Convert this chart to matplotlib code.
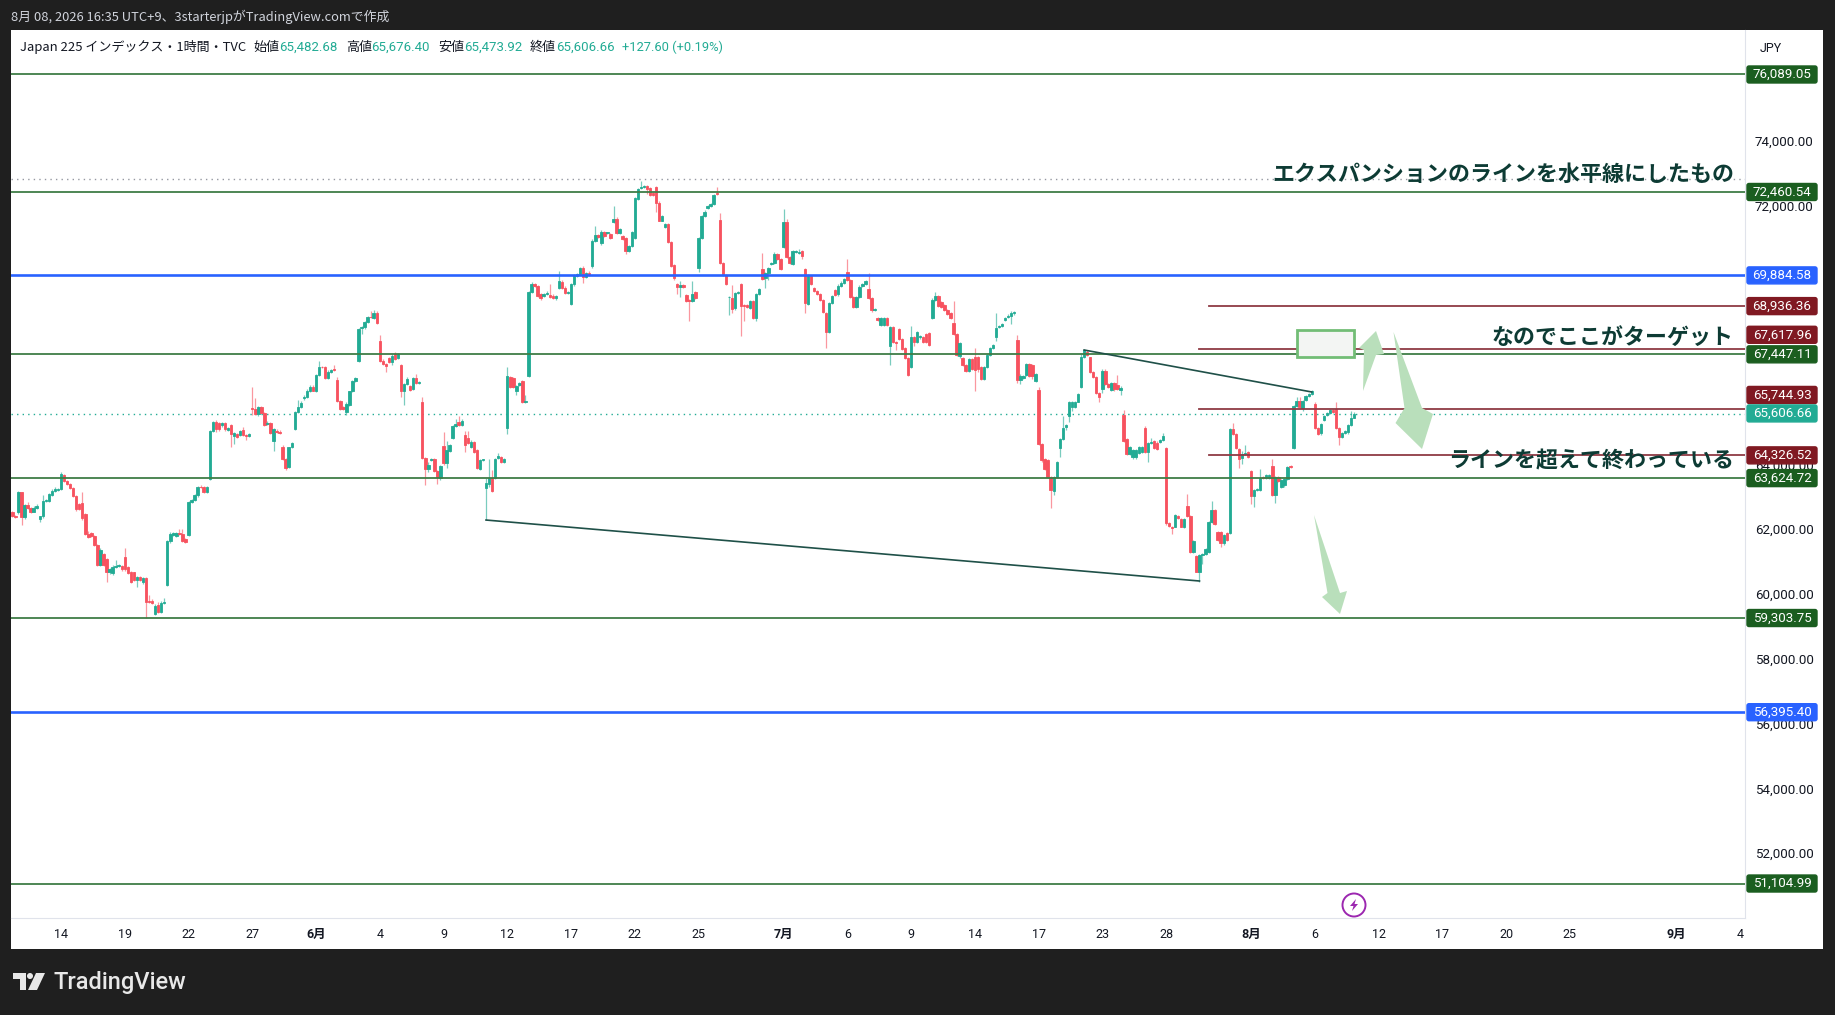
import numpy as np
import matplotlib
matplotlib.use("Agg")
import matplotlib.pyplot as plt
from matplotlib.patches import Rectangle, Polygon, FancyBboxPatch, Ellipse, Circle

JP = ['Noto Sans CJK JP', 'DejaVu Sans']
NUM = ['Roboto', 'Noto Sans CJK JP', 'DejaVu Sans']

# hourly bars, 7 per session
opens = [
    62570, 62460,
    62590, 63190, 62410, 62800, 62700, 62590, 62700,
    62360, 62440, 62920, 62930, 63110, 63240, 63260,
    63280, 63720, 63540, 63440, 63310, 63080, 62830,
    62850, 62520, 61890, 61920, 61850, 61560, 60950,
    61280, 61120, 60710, 60690, 60890, 60920, 60920,
    61200, 60870, 60740, 60710, 60480, 60560, 60410,
    60550, 59840, 59840, 59430, 59710, 59500, 59760,
    60330, 61670, 61870, 61840, 61920, 61900, 61750,
    61870, 62880, 62950, 63110, 63360, 63340, 63190,
    63590, 65090, 65370, 65320, 65270, 65320, 65110,
    65270, 64910, 64990, 64960, 65110, 64960, 64910,
    65780, 65760, 65610, 65810, 65650, 65300, 65320,
    64770, 65090, 65060, 64600, 64220, 63980, 64570,
    65130, 65680, 65830, 66090, 66140, 66320, 66450,
    66300, 66810, 67070, 67050, 66710, 66910, 66990,
    66640, 66020, 65830, 65660, 65890, 66300, 66610,
    67240, 68250, 68280, 68460, 68610, 68560, 68710,
    67870, 67250, 67150, 67330, 67220, 67460, 67330,
    67120, 66300, 66530, 66470, 66370, 66710, 66570,
    65960, 64240, 63910, 64190, 64210, 63850, 63620,
    64620, 64080, 64470, 64860, 65220, 65370, 65270,
    64960, 64860, 64600, 64750, 64500, 63900, 64190,
    63330, 63440, 63620, 63620, 64240, 64290, 64130,
    65180, 66760, 66710, 66330, 66500, 66610, 65970,
    66790, 69380, 69610, 69560, 69310, 69260, 69310,
    69280, 69260, 69180, 69510, 69690, 69510, 69330,
    69000, 69610, 69870, 69930, 70120, 69830, 69970,
    70160, 70960, 71130, 70880, 71240, 71200, 71160,
    71540, 71620, 71200, 71100, 71030, 70640, 70800,
    71050, 72240, 72590, 72620, 72640, 72570, 72420,
    72620, 72130, 71580, 71370, 71470, 70910, 70210,
    69610, 69520, 69590, 69280, 69130, 69100, 69360,
    70100, 71030, 71730, 71960, 72030, 72080, 72420,
    71600, 70260, 69900, 69210, 69180, 68870, 69350,
    69610, 68970, 68970, 68870, 69080, 68560, 69300,
    70080, 69790, 69950, 70230, 70260, 70550, 70390,
    70770, 71540, 70440, 70240, 70620, 70570, 70640,
    70070, 68990, 69870, 69490, 69400, 69300, 69130,
    68710, 68130, 69040, 69430, 69300, 69560, 69640,
    69980, 69740, 69230, 68920, 69210, 69560, 69610,
    69450, 69180, 68820, 68580, 68350, 68350, 68560,
    67690, 68300, 67840, 68230, 67910, 67630, 67320,
    67050, 67970, 67840, 67970, 67990, 68080, 68100,
    68560, 69130, 69250, 69070, 68970, 68820, 68710,
    68430, 68080, 67400, 67320, 67120, 66940, 67290,
    67380, 67360, 67070, 66680, 67050, 67430, 67630,
    67970, 68280, 68320, 68510, 68590, 68640, 68710,
    67890, 66660, 66710, 66810, 67140, 67120, 66630,
    66350, 64670, 64210, 64190, 63670, 63240, 63670,
    64550, 64830, 65210, 65550, 65830, 65830, 65990,
    66450, 67350, 67530, 67350, 66910, 66760, 66240,
    66380, 66940, 66520, 66350, 66570, 66500, 66350,
    65580, 64820, 64370, 64270, 64270, 64410, 64440,
    65180, 64440, 64720, 64780, 64720, 64750, 64800,
    64550, 62230, 62130, 62130, 62440, 62350, 62130,
    62750, 62440, 61330, 61220, 60740, 61250, 61280,
    61330, 62260, 62640, 61970, 61970, 61610, 61920,
    61940, 65140, 64990, 64520, 64240, 64370, 64430,
    63830, 63080, 63260, 63260, 63670, 63640, 63620,
    64000, 63110, 63670, 63340, 63410, 63590, 64000,
    64550, 65860, 66020, 65780, 66040, 66160, 66220,
    65920, 65180, 65010, 65420, 65580, 65630, 65730,
    65750, 65180, 64880, 65030, 65060, 65270, 65482.68,
]
closes = [
    62440, 62410,
    63190, 62410, 62800, 62700, 62590, 62700, 62770,
    62440, 62920, 62950, 63130, 63240, 63280, 63280,
    63750, 63540, 63440, 63310, 63080, 62660, 62660,
    62390, 61890, 61820, 61840, 61560, 60950, 61410,
    60950, 60710, 60810, 60890, 60920, 60930, 60810,
    60810, 60690, 60410, 60480, 60560, 60480, 60550,
    59810, 59810, 59760, 59680, 59500, 59760, 59810,
    61670, 61900, 61920, 61920, 61900, 61670, 61650,
    62880, 62950, 63090, 63360, 63340, 63210, 63340,
    65090, 65370, 65130, 65130, 65320, 65130, 65160,
    64990, 65010, 64890, 65090, 64960, 64930, 64990,
    65770, 65610, 65810, 65650, 65270, 65340, 65010,
    65130, 65040, 65010, 64220, 63950, 64570, 64700,
    65680, 65830, 65940, 66140, 66330, 66450, 66330,
    66810, 67050, 67050, 66710, 66910, 66960, 66950,
    66020, 65760, 65760, 65920, 66300, 66610, 66710,
    68230, 68280, 68440, 68590, 68590, 68710, 68410,
    67250, 67150, 67090, 67200, 67400, 67290, 67450,
    66300, 66530, 66680, 66350, 66710, 66570, 66590,
    64240, 63910, 64030, 64210, 63850, 63670, 64000,
    64080, 64500, 64650, 65220, 65300, 65270, 65400,
    64650, 64700, 64750, 64440, 63930, 64190, 64200,
    63470, 63620, 63230, 64220, 64310, 64130, 64210,
    66780, 66450, 66450, 66470, 66550, 65970, 66010,
    69380, 69610, 69570, 69260, 69200, 69310, 69350,
    69230, 69180, 69260, 69710, 69510, 69330, 69380,
    69610, 69900, 69920, 70120, 69830, 69950, 69900,
    70960, 71130, 71060, 71240, 71100, 71210, 71050,
    71620, 71200, 71320, 71000, 70640, 70800, 71240,
    72260, 72550, 72620, 72640, 72540, 72370, 72370,
    72130, 71580, 71730, 71470, 70910, 70180, 69800,
    69520, 69590, 69520, 69100, 69100, 69310, 69180,
    71030, 71730, 71850, 72030, 72080, 72370, 72390,
    70260, 69900, 69610, 69220, 68840, 69350, 69360,
    68950, 68950, 68920, 69080, 68560, 69300, 69450,
    69760, 69970, 70120, 70260, 70540, 70390, 70070,
    71540, 70460, 70260, 70640, 70630, 70620, 70480,
    69020, 69900, 69610, 69410, 69310, 69130, 68740,
    68130, 69040, 69250, 69280, 69560, 69640, 69760,
    69740, 69230, 68920, 69210, 69540, 69610, 69720,
    69180, 68820, 68840, 68510, 68560, 68560, 68350,
    68300, 67840, 67790, 67910, 67600, 67320, 66810,
    67970, 67840, 68150, 68010, 67840, 67840, 67740,
    69130, 69250, 68940, 68920, 68820, 68690, 68560,
    68080, 67430, 67790, 67120, 66940, 67290, 66980,
    66970, 66990, 66680, 67050, 67430, 67630, 67740,
    68250, 68320, 68390, 68580, 68640, 68710, 68740,
    66660, 66780, 66780, 67140, 66780, 66780, 66840,
    64670, 64170, 63900, 63670, 63260, 63670, 64130,
    64830, 65180, 65270, 65970, 65970, 65990, 66220,
    67350, 67580, 67430, 66910, 66760, 66240, 66140,
    66940, 66520, 66430, 66550, 66370, 66370, 66400,
    64780, 64370, 64580, 64500, 64500, 64600, 64600,
    64440, 64720, 64750, 64550, 64520, 64800, 64910,
    62230, 62150, 62080, 62470, 62390, 62130, 62350,
    62440, 61330, 61690, 60740, 61250, 61280, 61430,
    62260, 62640, 62210, 61720, 61630, 61870, 61720,
    65140, 64990, 64550, 64210, 64370, 64390, 64290,
    63080, 63260, 63280, 63620, 63620, 63720, 63720,
    63110, 63670, 63520, 63570, 63590, 63980, 63960,
    65860, 66020, 65830, 66020, 66160, 66220, 66300,
    65180, 64990, 65300, 65550, 65650, 65730, 65660,
    65180, 64880, 65030, 65080, 65270, 65470, 65606.66,
]
upper_wick = [
    30, 20,
    30, 0, 30, 100, 30, 50, 40,
    20, 170, 40, 40, 60, 80, 30,
    60, 40, 30, 30, 30, 30, 30,
    360, 30, 90, 40, 30, 30, 60,
    30, 30, 50, 40, 170, 30, 30,
    260, 40, 30, 30, 30, 30, 30,
    30, 170, 40, 50, 100, 60, 100,
    30, 50, 30, 30, 120, 140, 30,
    30, 30, 40, 30, 40, 50, 40,
    30, 30, 40, 30, 30, 30, 40,
    40, 40, 30, 30, 100, 30, 40,
    650, 350, 40, 30, 30, 40, 30,
    40, 40, 60, 40, 30, 30, 30,
    30, 200, 60, 40, 50, 40, 40,
    30, 180, 30, 30, 50, 30, 130,
    100, 30, 30, 40, 30, 30, 30,
    30, 40, 30, 40, 160, 100, 70,
    170, 40, 30, 40, 60, 60, 40,
    30, 30, 60, 30, 30, 130, 40,
    160, 30, 80, 30, 30, 30, 30,
    420, 260, 40, 60, 150, 170, 40,
    130, 220, 40, 30, 30, 30, 30,
    160, 590, 270, 40, 80, 30, 30,
    290, 30, 30, 30, 40, 30, 190,
    30, 60, 30, 40, 30, 40, 40,
    340, 40, 30, 310, 60, 40, 30,
    40, 40, 30, 30, 70, 50, 40,
    40, 280, 30, 40, 30, 30, 30,
    400, 60, 30, 30, 30, 30, 30,
    40, 40, 170, 30, 30, 30, 30,
    30, 40, 30, 30, 30, 30, 40,
    30, 120, 30, 30, 30, 410, 40,
    30, 30, 40, 30, 40, 30, 180,
    210, 30, 30, 30, 400, 30, 30,
    30, 30, 30, 30, 30, 30, 40,
    500, 30, 30, 30, 60, 30, 30,
    410, 100, 30, 30, 50, 70, 30,
    30, 30, 30, 40, 30, 30, 30,
    30, 30, 30, 30, 60, 60, 30,
    410, 30, 30, 30, 40, 30, 30,
    510, 30, 30, 30, 40, 30, 30,
    30, 30, 30, 30, 30, 30, 30,
    350, 30, 30, 30, 30, 30, 30,
    50, 130, 30, 30, 30, 30, 30,
    650, 30, 30, 30, 30, 30, 30,
    260, 30, 30, 30, 30, 30, 30,
    470, 30, 30, 30, 40, 60, 60,
    160, 50, 30, 30, 30, 30, 40,
    100, 30, 30, 30, 30, 30, 30,
    30, 350, 40, 30, 30, 30, 30,
    120, 30, 40, 30, 30, 30, 30,
    40, 40, 30, 30, 30, 320, 60,
    150, 40, 30, 30, 30, 30, 30,
    40, 30, 120, 30, 50, 30, 100,
    30, 30, 30, 60, 30, 30, 30,
    380, 30, 30, 30, 30, 30, 30,
    30, 270, 40, 30, 30, 30, 30,
    30, 200, 30, 40, 100, 260, 30,
    30, 40, 30, 280, 30, 40, 30,
    230, 30, 30, 30, 30, 30, 30,
    30, 100, 120, 30, 30, 30, 40,
    60, 30, 30, 30, 30, 30, 30,
    240, 30, 30, 30, 30, 220, 70,
]
lower_wick = [
    20, 20,
    60, 240, 60, 30, 40, 20, 30,
    80, 60, 30, 40, 30, 30, 20,
    30, 40, 30, 30, 40, 60, 30,
    50, 30, 40, 40, 30, 40, 30,
    40, 300, 60, 50, 30, 30, 50,
    50, 40, 30, 30, 220, 40, 60,
    520, 30, 30, 30, 30, 30, 20,
    40, 40, 30, 40, 30, 30, 30,
    40, 30, 40, 60, 30, 30, 30,
    30, 50, 70, 60, 60, 60, 40,
    390, 240, 30, 40, 30, 120, 30,
    200, 40, 70, 30, 30, 30, 30,
    300, 30, 30, 30, 60, 30, 30,
    30, 30, 40, 40, 30, 30, 30,
    30, 30, 30, 30, 40, 30, 30,
    30, 30, 30, 100, 40, 30, 30,
    30, 180, 40, 30, 30, 30, 30,
    30, 30, 180, 30, 100, 30, 40,
    160, 430, 30, 30, 30, 30, 30,
    30, 500, 90, 30, 30, 240, 60,
    40, 130, 40, 30, 30, 30, 40,
    210, 30, 40, 30, 30, 30, 30,
    1000, 90, 30, 30, 30, 30, 30,
    180, 30, 40, 150, 30, 30, 30,
    30, 30, 30, 30, 60, 30, 30,
    30, 30, 50, 30, 40, 30, 30,
    30, 40, 30, 30, 190, 30, 30,
    40, 30, 30, 60, 30, 30, 30,
    30, 30, 30, 30, 100, 30, 40,
    30, 30, 30, 30, 130, 30, 30,
    300, 30, 30, 30, 30, 30, 60,
    200, 310, 30, 30, 630, 30, 30,
    100, 30, 50, 40, 30, 30, 30,
    30, 30, 30, 550, 110, 60, 30,
    940, 470, 30, 30, 30, 80, 30,
    30, 300, 200, 30, 30, 30, 30,
    30, 30, 30, 30, 30, 30, 100,
    310, 30, 30, 30, 30, 50, 30,
    490, 30, 40, 30, 40, 30, 30,
    30, 30, 30, 30, 30, 30, 30,
    30, 60, 30, 30, 40, 30, 30,
    570, 30, 200, 30, 30, 30, 30,
    30, 150, 30, 40, 30, 30, 30,
    30, 30, 30, 30, 30, 30, 30,
    30, 30, 60, 30, 30, 30, 30,
    670, 100, 30, 30, 30, 30, 30,
    100, 30, 30, 30, 30, 250, 40,
    100, 130, 30, 30, 30, 100, 30,
    30, 40, 30, 30, 560, 130, 30,
    270, 30, 100, 200, 130, 30, 30,
    30, 30, 30, 30, 30, 30, 180,
    120, 30, 30, 30, 60, 30, 170,
    30, 30, 30, 40, 40, 50, 40,
    30, 310, 30, 30, 30, 30, 30,
    40, 30, 180, 30, 30, 30, 60,
    30, 30, 30, 30, 320, 290, 40,
    30, 30, 30, 30, 130, 60, 30,
    30, 30, 30, 280, 180, 30, 30,
    240, 360, 30, 30, 30, 30, 30,
    30, 240, 30, 30, 70, 30, 20,
    30, 30, 30, 70, 30, 30, 30,
    30, 40, 40, 30, 30, 30, 30,
    30, 220, 30, 30, 60, 30, 10,
]

tick_bars = [0, 21, 42, 63, 84, 105, 126, 147, 168, 189, 210, 238, 259, 280,
             301, 322, 343, 364, 392, 413, 434, 455, 476, 497, 532, 553]
tick_labels = ['14', '19', '22', '27', '6月', '4', '9', '12', '17', '22', '25', '7月', '6', '9',
               '14', '17', '23', '28', '8月', '6', '12', '17', '20', '25', '9月', '4']
price_ticks = [52000, 54000, 56000, 58000, 60000, 62000, 64000, 72000, 74000]

green_levels = [76089.05, 72460.54, 67447.11, 63624.72, 59303.75, 51104.99]
blue_levels = [69884.58, 56395.40]
red_levels = [68936.36, 67617.96, 65744.93, 64326.52]
red_starts = [378, 375, 375, 378]
last_price = 65606.66
high_price = 72852

trend_a_bars = [140, 375]
trend_a_prices = [62330, 60447]
trend_b_bars = [337, 412]
trend_b_prices = [67581, 66284]
box_bars = [407, 426]
box_prices = [67365, 68198]

UP = '#22ab94'
DOWN = '#f7525f'
DARK = '#1f1f1f'
W, H = 1835, 1015

fig = plt.figure(figsize=(W / 100, H / 100), dpi=100, facecolor=DARK)

# white panel behind chart and scales
panel = fig.add_axes([11 / W, 1 - 949 / H, (1823 - 11) / W, (949 - 30) / H], facecolor='white')
panel.set_xticks([])
panel.set_yticks([])
for s in panel.spines.values():
    s.set_visible(False)

ax = fig.add_axes([11 / W, 1 - 918 / H, (1745 - 11) / W, (918 - 30) / H], facecolor='none')
ax.set_xlim(-16.47, 554.7)
ax.set_ylim(50040, 77463)

bars = np.arange(len(opens)) - 16
o = np.array(opens)
c = np.array(closes)
hi = np.maximum(o, c) + np.array(upper_wick)
lo = np.minimum(o, c) - np.array(lower_wick)
cols = [UP if b >= a else DOWN for a, b in zip(o, c)]

ax.vlines(bars, lo, hi, colors=cols, lw=0.9, alpha=0.6, zorder=2)
ax.bar(bars, np.abs(c - o), bottom=np.minimum(o, c), width=0.8, color=cols,
       edgecolor=cols, linewidth=0.6, zorder=2.2)

ax.axhline(high_price, color='#9598a1', lw=1, ls=(0, (1, 3)), zorder=1.5)
ax.axhline(last_price, color=UP, lw=1, ls=(0, (1, 3)), zorder=1.5)

for v in green_levels:
    ax.axhline(v, color='#3f7d46', lw=1.3, zorder=3)
for v in blue_levels:
    ax.axhline(v, color='#2962ff', lw=1.9, zorder=3)
for v, s in zip(red_levels, red_starts):
    ax.plot([s, ax.get_xlim()[1]], [v, v], color='#8f3a44', lw=1.3, zorder=3)

ax.plot(trend_a_bars, trend_a_prices, color='#1f5048', lw=1.2, zorder=3)
ax.plot(trend_b_bars, trend_b_prices, color='#1f5048', lw=1.2, zorder=3)
ax.add_patch(Rectangle((box_bars[0], box_prices[0]), box_bars[1] - box_bars[0], box_prices[1] - box_prices[0],
                       facecolor='#f3f5f3', edgecolor='#72bd76', lw=2.0, zorder=3))

ax.set_xticks(tick_bars)
ax.set_xticklabels(tick_labels)
ax.set_yticks(price_ticks)
ax.set_yticklabels([f'{v:,.2f}' for v in price_ticks])
ax.yaxis.tick_right()
ax.tick_params(axis='x', length=0, pad=7, labelcolor='#131722')
ax.tick_params(axis='y', length=0, pad=7, labelcolor='#131722')
for t, lab in zip(ax.get_xticklabels(), tick_labels):
    t.set_family(NUM)
    t.set_fontsize(9)
    if '月' in lab:
        t.set_fontweight('bold')
for t in ax.get_yticklabels():
    t.set_family('Roboto')
    t.set_fontsize(9.6)
    t.set_verticalalignment('center')
for name in ['top', 'left']:
    ax.spines[name].set_visible(False)
ax.spines['bottom'].set_color('#e0e3eb')
ax.spines['right'].set_color('#e0e3eb')

# overlay in picture pixels for the scale labels, texts, arrows and logo
ov = fig.add_axes([0, 0, 1, 1], facecolor='none', zorder=10)
ov.set_xlim(0, W)
ov.set_ylim(H, 0)
ov.axis('off')


def price_label(value, color, nudge=0):
    y = H - ax.transData.transform((0, value))[1] + nudge
    ov.add_patch(FancyBboxPatch((1747, y - 8.5), 70, 17, boxstyle='round,pad=0,rounding_size=2',
                                facecolor=color, edgecolor=color, lw=1))
    ov.text(1782, y, f'{value:,.2f}', color='white', ha='center', va='center', family='Roboto', fontsize=9.6)


nudges = {67617.96: -14, 65744.93: -14.5, 65606.66: -0.5}
price_label(69884.58, '#2962ff')
price_label(56395.40, '#2962ff')
for v in green_levels:
    price_label(v, '#1b5e20', nudges.get(v, 0))
for v in red_levels:
    price_label(v, '#801922', nudges.get(v, 0))
price_label(last_price, UP, nudges[last_price])

ov.text(1771, 48, 'JPY', color='#131722', ha='center', va='center', family='Roboto', fontsize=9)

# header line and legend
ov.text(11, 17, '8月 08, 2026 16:35 UTC+9、3starterjpがTradingView.comで作成', color='#d1d4dc',
        ha='left', va='center', family=JP, fontsize=9.3)
ov.text(20, 47, 'Japan 225 インデックス・1時間・TVC', color='#131722', ha='left', va='center', family=JP, fontsize=9.4)
for x, lab in zip([253, 346, 438, 530], ['始値', '高値', '安値', '終値']):
    ov.text(x, 47, lab, color='#131722', ha='left', va='center', family=JP, fontsize=9.4)
for x, lab in zip([279, 371, 464, 556], ['65,482.68', '65,676.40', '65,473.92', '65,606.66']):
    ov.text(x, 47, lab, color=UP, ha='left', va='center', family='Roboto', fontsize=9.5)
ov.text(622, 47, '+127.60 (+0.19%)', color=UP, ha='left', va='center', family='Roboto', fontsize=9.3)

# hand drawn notes
note_color = '#0d3b34'
for y, txt in [(174, 'エクスパンションのラインを水平線にしたもの'),
               (337, 'なのでここがターゲット'),
               (461, 'ラインを超えて終わっている')]:
    ov.text(1734, y, txt, color=note_color, ha='right', va='center', family=JP, fontsize=15.8, fontweight='bold')

arrow_up = [(1363, 391), (1364, 350), (1359, 348), (1376, 331), (1384, 354), (1376, 355)]
arrow_down = [(1393.5, 332), (1422, 408), (1433, 414), (1422, 449), (1395.5, 423), (1404.5, 408)]
arrow_low = [(1314, 515), (1340, 593), (1347, 591), (1340, 614), (1322, 597), (1327.5, 593)]
for pts in [arrow_up, arrow_down, arrow_low]:
    ov.add_patch(Polygon(pts, closed=True, facecolor='#b9dfbb', edgecolor='none', zorder=4))

# lightning marker
ov.add_patch(Ellipse((1354, 905), 23, 23, facecolor='white', edgecolor='#9c27b0', lw=1.4))
ov.add_patch(Polygon([(1356, 899), (1350, 906), (1353.5, 906), (1352, 911), (1358, 904), (1354.5, 904)],
                     closed=True, facecolor='#9c27b0', edgecolor='none'))

# TradingView logo
logo = '#e8e8e8'
ov.add_patch(Rectangle((13, 973), 13, 6, facecolor=logo, edgecolor='none'))
ov.add_patch(Rectangle((19.5, 973), 6.5, 17, facecolor=logo, edgecolor='none'))
ov.add_patch(Circle((30, 976), 3, facecolor=logo, edgecolor='none'))
ov.add_patch(Polygon([(36, 973), (45, 973), (37, 990), (28, 990)], closed=True, facecolor=logo, edgecolor='none'))
ov.text(53, 983, 'TradingView', color=logo, ha='left', va='center', family='Roboto', fontsize=17, fontweight='medium')

fig.savefig('out.png', dpi=100, facecolor=DARK)
plt.close(fig)
